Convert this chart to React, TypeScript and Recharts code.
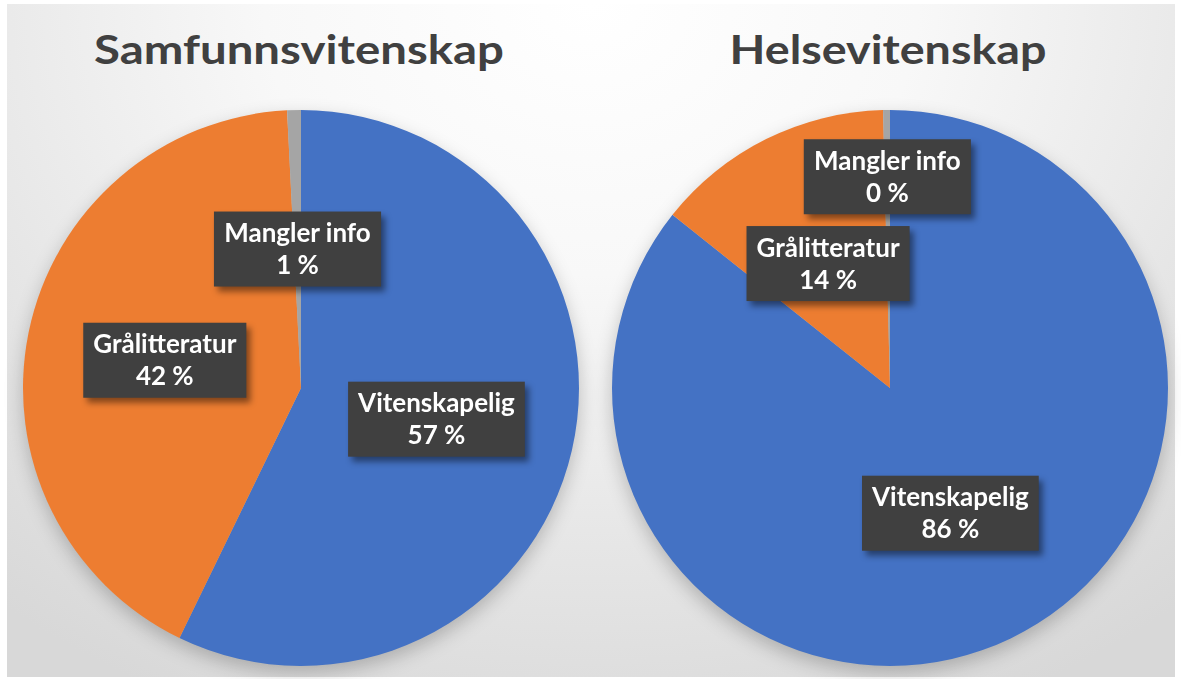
import React from 'react';
import { PieChart, Pie, Cell } from 'recharts';

const categories = ['Vitenskapelig', 'Grålitteratur', 'Mangler info'];
const samfunnValues = [57.2, 42.0, 0.8];
const helseValues = [85.7, 13.9, 0.4];
const titles = ['Samfunnsvitenskap', 'Helsevitenskap'];
const colors = ['#4472C4', '#ED7D31', '#A5A5A5'];

const samfunnData = categories.map((name, i) => ({ name, value: samfunnValues[i] }));
const helseData = categories.map((name, i) => ({ name, value: helseValues[i] }));

const LABEL_FONT = 'bold 26px Lato';
let ctx: CanvasRenderingContext2D | null = null;
function measure(t: string): number {
  if (!ctx) {
    const c = document.createElement('canvas');
    ctx = c.getContext('2d');
  }
  if (!ctx) return t.length * 13;
  ctx.font = LABEL_FONT;
  return ctx.measureText(t).width;
}

const makeLabel = (radii: number[]) => (props: any) => {
  const { cx, cy, midAngle, outerRadius, index, name, value } = props;
  const RAD = Math.PI / 180;
  const r = outerRadius * radii[index];
  const x = cx + r * Math.cos(-midAngle * RAD);
  const y = cy + r * Math.sin(-midAngle * RAD);
  const line2 = `${Math.round(value)} %`;
  const w = Math.max(measure(name), measure(line2)) + 20;
  const h = 75;
  return (
    <g key={`lbl-${index}`}>
      <rect x={x - w / 2 + 4} y={y - h / 2 + 5} width={w} height={h} fill="rgba(0,0,0,0.45)" style={{ filter: 'blur(3px)' }} />
      <rect x={x - w / 2} y={y - h / 2} width={w} height={h} fill="#404040" />
      <text x={x} y={y - 7} textAnchor="middle" fill="#ffffff" style={{ font: LABEL_FONT }}>{name}</text>
      <text x={x} y={y + 25} textAnchor="middle" fill="#ffffff" style={{ font: LABEL_FONT }}>{line2}</text>
    </g>
  );
};

export default function App() {
  return (
    <div style={{ position: 'absolute', left: 0, top: 0, width: 1181, height: 679, background: '#ffffff', overflow: 'hidden' }}>
      <div
        style={{
          position: 'absolute', left: 7, top: 4, width: 1168, height: 673,
          background: 'radial-gradient(ellipse 80% 115% at 50% 0%, #ffffff 0%, #f8f8f8 35%, #e6e6e6 70%, #d8d8d8 100%)',
        }}
      />
      <svg width={1181} height={679} style={{ position: 'absolute', left: 0, top: 0 }}>
        <text x={299} y={64} textAnchor="middle" fill="#404040" textLength={410} lengthAdjust="spacingAndGlyphs"
          style={{ font: 'bold 40px Lato' }}>{titles[0]}</text>
        <text x={888} y={64} textAnchor="middle" fill="#404040" textLength={317} lengthAdjust="spacingAndGlyphs"
          style={{ font: 'bold 40px Lato' }}>{titles[1]}</text>
      </svg>
      <div style={{ position: 'absolute', left: 0, top: 0, filter: 'drop-shadow(0px 7px 9px rgba(0,0,0,0.22))' }}>
        <PieChart width={1181} height={679} margin={{ top: 0, right: 0, bottom: 0, left: 0 }}>
          <Pie
            data={samfunnData}
            dataKey="value"
            nameKey="name"
            cx={301}
            cy={388}
            outerRadius={278}
            startAngle={90}
            endAngle={-270}
            stroke="none"
            labelLine={false}
            label={makeLabel([0.5, 0.5, 0.5])}
            isAnimationActive={false}
          >
            {samfunnData.map((d, i) => (
              <Cell key={d.name} fill={colors[i]} />
            ))}
          </Pie>
          <Pie
            data={helseData}
            dataKey="value"
            nameKey="name"
            cx={890}
            cy={388}
            outerRadius={278}
            startAngle={90}
            endAngle={-270}
            stroke="none"
            labelLine={false}
            label={makeLabel([0.5, 0.5, 0.76])}
            isAnimationActive={false}
          >
            {helseData.map((d, i) => (
              <Cell key={d.name} fill={colors[i]} />
            ))}
          </Pie>
        </PieChart>
      </div>
    </div>
  );
}
